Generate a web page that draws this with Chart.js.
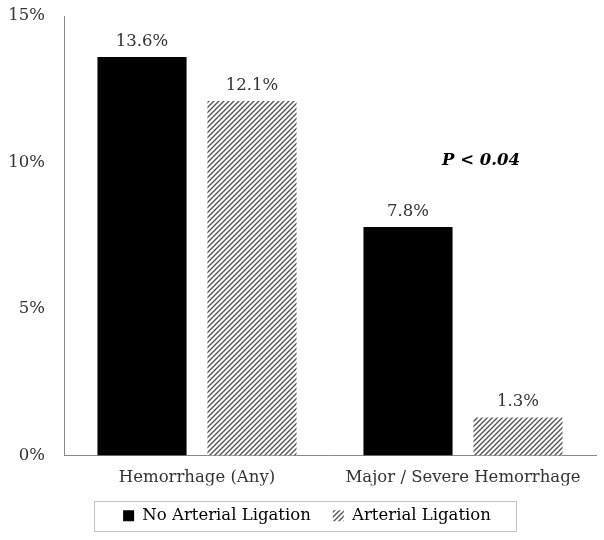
<!DOCTYPE html>
<html>
<head>
<meta charset="utf-8">
<script src="https://cdn.jsdelivr.net/npm/chart.js@4/dist/chart.umd.min.js"></script>
<style>
html,body{margin:0;padding:0;background:#fff;}
#wrap{width:604px;height:540px;}
</style>
</head>
<body>
<div id="wrap"><canvas id="c" width="604" height="540"></canvas></div>
<script>
const categories = ["Hemorrhage (Any)", "Major / Severe Hemorrhage"];
const seriesNames = ["No Arterial Ligation", "Arterial Ligation"];
const noLigation = [13.6, 7.8];
const ligation = [12.1, 1.3];
const yTicks = [0, 5, 10, 15];
const annotationText = "P < 0.04";

const FONT = "'DejaVu Serif', serif";
const FS = 16.5;

function makeHatch() {
  const s = 5;
  const p = document.createElement('canvas');
  p.width = s; p.height = s;
  const g = p.getContext('2d');
  g.fillStyle = '#fff';
  g.fillRect(0, 0, s, s);
  g.strokeStyle = '#555';
  g.lineWidth = 1.4;
  g.beginPath();
  g.moveTo(-1, s + 1); g.lineTo(s + 1, -1);
  g.moveTo(-1, 1); g.lineTo(1, -1);
  g.moveTo(s - 1, s + 1); g.lineTo(s + 1, s - 1);
  g.stroke();
  return document.getElementById('c').getContext('2d').createPattern(p, 'repeat');
}
const hatch = makeHatch();

const labelPlugin = {
  id: 'valueLabels',
  afterLayout(chart) {
    const lg = chart.legend;
    if (lg) { lg.left += 9; lg.right += 9; }
  },
  afterDatasetsDraw(chart) {
    const ctx = chart.ctx;
    ctx.save();
    ctx.font = FS + "px " + FONT;
    ctx.fillStyle = '#333';
    ctx.textAlign = 'center';
    ctx.textBaseline = 'alphabetic';
    chart.data.datasets.forEach((ds, di) => {
      chart.getDatasetMeta(di).data.forEach((bar, i) => {
        ctx.fillText(ds.data[i].toFixed(1) + '%', bar.x, bar.y - 11);
      });
    });
    // annotation
    const xs = chart.scales.x, ys = chart.scales.y;
    ctx.font = "italic bold " + FS + "px " + FONT;
    ctx.fillStyle = '#000';
    ctx.textBaseline = 'middle';
    ctx.fillText(annotationText, xs.getPixelForValue(1) + 18, ys.getPixelForValue(10.05));
    // legend dotted box
    const lg = chart.legend;
    if (lg && lg.legendHitBoxes && lg.legendHitBoxes.length) {
      const hb = lg.legendHitBoxes;
      const l = hb[0].left - 29, r = hb[hb.length - 1].left + hb[hb.length - 1].width + 25;
      const cy = hb[0].top + hb[0].height / 2;
      const t = cy - 15, b = cy + 15;
      ctx.strokeStyle = '#888';
      ctx.lineWidth = 1;
      ctx.setLineDash([1, 1]);
      ctx.strokeRect(Math.round(l) + 0.5, Math.round(t) + 0.5, Math.round(r - l), Math.round(b - t));
    }
    ctx.restore();
  }
};

new Chart(document.getElementById('c'), {
  type: 'bar',
  data: {
    labels: categories,
    datasets: [
      { label: seriesNames[0], data: noLigation, backgroundColor: '#000', borderWidth: 0,
        categoryPercentage: 0.827, barPercentage: 0.81 },
      { label: seriesNames[1], data: ligation, backgroundColor: hatch, borderWidth: 0,
        categoryPercentage: 0.827, barPercentage: 0.81 }
    ]
  },
  options: {
    responsive: false,
    animation: false,
    layout: { padding: { top: 16, right: 8, left: 0, bottom: 6 } },
    plugins: {
      tooltip: { enabled: false },
      legend: {
        display: true,
        position: 'bottom',
        labels: {
          font: { family: FONT, size: FS },
          color: '#111',
          boxWidth: 11, boxHeight: 11,
          padding: 22,
          generateLabels(chart) {
            return chart.data.datasets.map((ds, i) => ({
              text: ds.label, fillStyle: i === 0 ? '#000' : hatch,
              strokeStyle: 'rgba(0,0,0,0)', lineWidth: 0, datasetIndex: i, hidden: false
            }));
          }
        }
      }
    },
    scales: {
      x: {
        grid: { display: false, drawTicks: false },
        border: { display: true, color: '#888', width: 1 },
        ticks: { font: { family: FONT, size: FS }, color: '#333', padding: 12 },
        afterFit(s) { s.height = 30; s.paddingLeft = 0; s.paddingRight = 0; }
      },
      y: {
        min: 0, max: 15,
        afterBuildTicks(s) { s.ticks = yTicks.map(v => ({ value: v })); },
        grid: { display: false, drawTicks: false },
        border: { display: true, color: '#888', width: 1 },
        ticks: { font: { family: FONT, size: FS }, color: '#333', padding: 19,
          callback: v => v + '%' },
        afterFit(s) { s.width = 64; s.paddingTop = 0; s.paddingBottom = 0; }
      }
    }
  },
  plugins: [labelPlugin]
});
</script>
</body>
</html>
